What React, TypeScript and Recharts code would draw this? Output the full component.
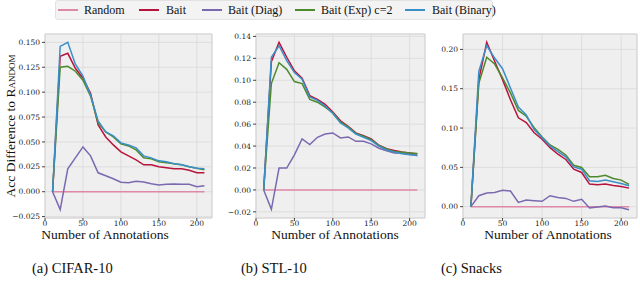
import React from 'react';
import { LineChart, Line, XAxis, YAxis, CartesianGrid, ReferenceArea, Label } from 'recharts';

const annotations = [10, 20, 30, 40, 50, 60, 70, 80, 90, 100, 110, 120, 130, 140, 150, 160, 170, 180, 190, 200, 210];

// (a) CIFAR-10
const cifarRandom = [0, 0, 0, 0, 0, 0, 0, 0, 0, 0, 0, 0, 0, 0, 0, 0, 0, 0, 0, 0, 0];
const cifarBait = [0, 0.136, 0.139, 0.124, 0.114, 0.099, 0.067, 0.055, 0.047, 0.040, 0.036, 0.032, 0.027, 0.027, 0.025, 0.024, 0.023, 0.023, 0.0215, 0.019, 0.019];
const cifarDiag = [0, -0.018, 0.023, 0.034, 0.045, 0.036, 0.019, 0.016, 0.013, 0.0095, 0.009, 0.0105, 0.0098, 0.008, 0.0068, 0.0074, 0.0078, 0.0075, 0.0075, 0.005, 0.006];
const cifarExp = [0, 0.125, 0.126, 0.121, 0.112, 0.096, 0.069, 0.060, 0.055, 0.048, 0.046, 0.042, 0.034, 0.033, 0.030, 0.029, 0.028, 0.027, 0.025, 0.0235, 0.022];
const cifarBinary = [0, 0.146, 0.150, 0.128, 0.116, 0.097, 0.071, 0.060, 0.056, 0.049, 0.047, 0.044, 0.036, 0.034, 0.031, 0.030, 0.028, 0.027, 0.025, 0.0235, 0.023];

// (b) STL-10
const stlRandom = [0, 0, 0, 0, 0, 0, 0, 0, 0, 0, 0, 0, 0, 0, 0, 0, 0, 0, 0, 0, 0];
const stlBait = [0, 0.117, 0.1346, 0.121, 0.1086, 0.102, 0.086, 0.0826, 0.078, 0.071, 0.063, 0.058, 0.052, 0.0495, 0.0465, 0.0407, 0.0376, 0.036, 0.0346, 0.0336, 0.0327];
const stlDiag = [0, -0.0177, 0.0199, 0.0199, 0.032, 0.0465, 0.0413, 0.048, 0.051, 0.052, 0.0474, 0.0483, 0.0443, 0.0443, 0.042, 0.038, 0.0358, 0.0336, 0.0336, 0.0327, 0.0315];
const stlExp = [0, 0.097, 0.116, 0.110, 0.0988, 0.097, 0.0826, 0.080, 0.0755, 0.0703, 0.062, 0.0575, 0.0514, 0.049, 0.0459, 0.0404, 0.0373, 0.035, 0.0343, 0.0336, 0.0333];
const stlBinary = [0, 0.121, 0.1315, 0.118, 0.107, 0.101, 0.0847, 0.0817, 0.0765, 0.0697, 0.061, 0.0566, 0.051, 0.048, 0.045, 0.040, 0.0364, 0.0346, 0.033, 0.032, 0.0315];

// (c) Snacks
const snacksRandom = [0, 0, 0, 0, 0, 0, 0, 0, 0, 0, 0, 0, 0, 0, 0, 0, 0, 0, 0, 0, 0];
const snacksBait = [0, 0.1616, 0.209, 0.185, 0.1616, 0.136, 0.113, 0.107, 0.094, 0.0857, 0.075, 0.0667, 0.060, 0.0477, 0.0435, 0.0287, 0.0278, 0.0287, 0.027, 0.0257, 0.0236];
const snacksDiag = [0, 0.0139, 0.0173, 0.018, 0.021, 0.020, 0.0055, 0.0084, 0.0076, 0.0068, 0.0139, 0.0118, 0.0105, 0.0068, 0.0093, -0.0017, -0.0004, 0.0008, -0.0013, -0.0013, -0.0038];
const snacksExp = [0, 0.157, 0.190, 0.1814, 0.1637, 0.1447, 0.1224, 0.115, 0.1004, 0.0886, 0.0785, 0.073, 0.0658, 0.0527, 0.0498, 0.038, 0.038, 0.040, 0.0359, 0.0338, 0.0283];
const snacksBinary = [0, 0.172, 0.205, 0.189, 0.1755, 0.151, 0.1266, 0.1165, 0.098, 0.0878, 0.0772, 0.070, 0.0633, 0.0506, 0.0477, 0.033, 0.032, 0.0338, 0.0316, 0.0295, 0.0266];

const seriesNames = ['Random', 'Bait', 'Bait (Diag)', 'Bait (Exp) c=2', 'Bait (Binary)'];
const seriesKeys = ['random', 'bait', 'diag', 'exp', 'binary'];
const seriesColors = ['#e088a8', '#b8133c', '#7b69b0', '#4c8a2c', '#3b8fc8'];

const xTicks = [0, 50, 100, 150, 200];
const cifarTicks = [-0.025, 0, 0.025, 0.05, 0.075, 0.1, 0.125, 0.15];
const stlTicks = [-0.02, 0, 0.02, 0.04, 0.06, 0.08, 0.1, 0.12, 0.14];
const snacksTicks = [0, 0.05, 0.1, 0.15, 0.2];

const xLabel = 'Number of Annotations';
const captions = ['(a) CIFAR-10', '(b) STL-10', '(c) Snacks'];

function build(r: number[], b: number[], d: number[], e: number[], bi: number[]) {
  return annotations.map((x, i) => ({ x, random: r[i], bait: b[i], diag: d[i], exp: e[i], binary: bi[i] }));
}

const cifarData = build(cifarRandom, cifarBait, cifarDiag, cifarExp, cifarBinary);
const stlData = build(stlRandom, stlBait, stlDiag, stlExp, stlBinary);
const snacksData = build(snacksRandom, snacksBait, snacksDiag, snacksExp, snacksBinary);

const tickSerif = "'DejaVu Serif', 'Liberation Serif', serif";
const labelSerif = "'Liberation Serif', 'DejaVu Serif', serif";
const tickFont = { fontFamily: tickSerif, fontSize: 7.5, fill: '#222' };

type PanelProps = {
  data: any[];
  left: number;
  width: number;
  yWidth: number;
  right: number;
  domain: [number, number];
  ticks: number[];
  decimals: number;
  yLabel?: boolean;
};

function Panel({ data, left, width, yWidth, right, domain, ticks, decimals, yLabel }: PanelProps) {
  return (
    <div style={{ position: 'absolute', left, top: 0, width, height: 240 }}>
      <LineChart width={width} height={240} data={data} margin={{ top: 34, right, bottom: 6, left: 0 }}>
        <CartesianGrid fill="#efefef" stroke="#d9d9d9" strokeWidth={0.8} />
        <ReferenceArea x1={0} x2={220} y1={domain[0]} y2={domain[1]} fill="none" stroke="#d4d4d4" strokeWidth={1} ifOverflow="visible" />
        <XAxis
          type="number"
          dataKey="x"
          domain={[0, 220]}
          ticks={xTicks}
          axisLine={false}
          tickLine={{ stroke: '#444' }}
          tickSize={3}
          tickMargin={0}
          tick={tickFont}
          height={16}
          interval={0}
        />
        <YAxis
          type="number"
          domain={domain}
          ticks={ticks}
          allowDataOverflow
          axisLine={false}
          tickLine={{ stroke: '#444' }}
          tickSize={3}
          tick={tickFont}
          width={yWidth}
          interval={0}
          tickFormatter={(v: number) => v.toFixed(decimals).replace('-', '\u2212')}
        >
          {yLabel ? (
            <Label
              content={() => (
                <text x={12} y={126} transform="rotate(-90 12 126)" textAnchor="middle" dominantBaseline="middle" fontFamily={labelSerif} fontSize={13.5} fill="#111">
                  Acc Difference to <tspan style={{ fontVariant: 'small-caps' }}>Random</tspan>
                </text>
              )}
            />
          ) : null}
        </YAxis>
        {seriesKeys.map((k, i) => (
          <Line
            key={k}
            type="linear"
            dataKey={k}
            name={seriesNames[i]}
            stroke={seriesColors[i]}
            strokeWidth={1.5}
            dot={false}
            isAnimationActive={false}
          />
        ))}
      </LineChart>
    </div>
  );
}

const legendItems = [
  { lineX: 58, textX: 84 },
  { lineX: 139, textX: 166 },
  { lineX: 202, textX: 228 },
  { lineX: 295, textX: 321 },
  { lineX: 405, textX: 432 },
];

const xLabelCenters = [105, 335, 548];
const captionLefts = [32, 241, 441];

export default function App() {
  return (
    <div style={{ position: 'fixed', left: 0, top: 0, width: 640, height: 285, background: '#fff', overflow: 'hidden' }}>
      <Panel data={cifarData} left={0} width={220} yWidth={45} right={8} domain={[-0.0264, 0.1584]} ticks={cifarTicks} decimals={3} yLabel />
      <Panel data={stlData} left={215} width={215} yWidth={41} right={5} domain={[-0.0256, 0.1422]} ticks={stlTicks} decimals={2} />
      <Panel data={snacksData} left={425} width={215} yWidth={38} right={3} domain={[-0.0144, 0.2196]} ticks={snacksTicks} decimals={2} />
      <div style={{ position: 'absolute', left: 55, top: 0, width: 438, height: 20, background: '#f3f3f3', border: '1px solid #e2e2e2', borderRadius: 3, boxSizing: 'border-box' }} />
      {legendItems.map((it, i) => (
        <React.Fragment key={i}>
          <div style={{ position: 'absolute', left: it.lineX, top: 9, width: 20, height: 2, background: seriesColors[i] }} />
          <div style={{ position: 'absolute', left: it.textX, top: 2, fontFamily: labelSerif, fontSize: 12, lineHeight: '16px', color: '#111', whiteSpace: 'nowrap' }}>{seriesNames[i]}</div>
        </React.Fragment>
      ))}
      {xLabelCenters.map((cx, i) => (
        <div key={i} style={{ position: 'absolute', left: cx - 80, width: 160, top: 227, textAlign: 'center', fontFamily: labelSerif, fontSize: 13.5, lineHeight: '15px', color: '#111', whiteSpace: 'nowrap' }}>{xLabel}</div>
      ))}
      {captions.map((c, i) => (
        <div key={c} style={{ position: 'absolute', left: captionLefts[i], top: 259, fontFamily: labelSerif, fontSize: 14.5, lineHeight: '18px', color: '#111', whiteSpace: 'nowrap' }}>{c}</div>
      ))}
    </div>
  );
}
